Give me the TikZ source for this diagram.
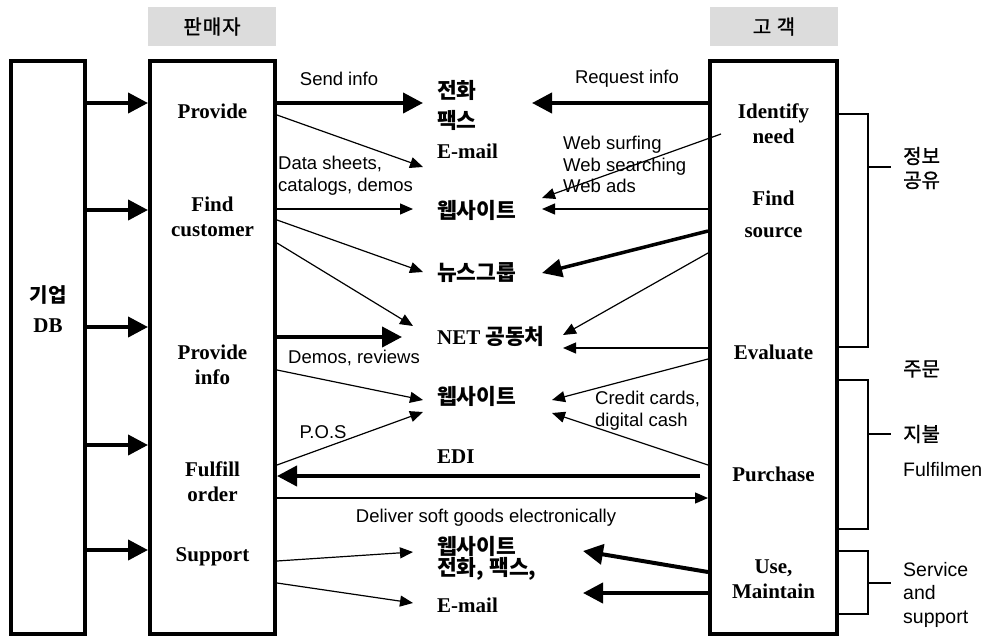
\documentclass[tikz,border=0pt]{standalone}
\usepackage{fontspec}
\usetikzlibrary{arrows.meta}
\newfontfamily\kr{Noto Sans CJK KR}
\newfontfamily\krm{Noto Sans CJK KR}[FakeBold=1.2]
\newfontfamily\tnr{Liberation Serif}
\newfontfamily\ar{Liberation Sans}
\definecolor{hdrgray}{RGB}{220,220,220}
\tikzset{
  frame/.style={draw, line width=4pt, inner sep=0pt},
  hdr/.style={fill=hdrgray, minimum width=128, minimum height=39, inner sep=0pt,
    font=\krm\fontsize{20}{20}\selectfont\addfontfeature{LetterSpace=5}},
  act/.style={align=center, inner sep=0pt, font=\tnr\bfseries\fontsize{21}{25}\selectfont},
  medk/.style={anchor=west, inner sep=0pt, font=\kr\bfseries\fontsize{21.5}{21.5}\selectfont},
  medt/.style={anchor=west, inner sep=0pt, font=\tnr\bfseries\fontsize{21}{21}\selectfont},
  lab/.style={inner sep=0pt, align=left, font=\ar\fontsize{18.5}{21.5}\selectfont},
  rlab/.style={anchor=west, inner sep=0pt, align=left, font=\ar\fontsize{19.5}{23.5}\selectfont},
  rlabk/.style={anchor=west, inner sep=0pt, align=left, font=\krm\fontsize{20}{24}\selectfont},
  bigarrow/.style={line width=4pt, -{Triangle[length=20pt,width=20pt]}},
  midarrow/.style={line width=3.5pt, -{Triangle[length=20pt,width=18pt]}},
  arr/.style={line width=1.2pt, -{Triangle[length=13pt,width=11pt]}},
  brk/.style={line width=1.3pt},
}
\begin{document}
\begin{tikzpicture}[x=1pt,y=-1pt]
\useasboundingbox (0,0) rectangle (988,637);

% headers
\node[hdr] (hseller) at (212,26.5) {판매자};
\node[hdr] (hcust) at (774,26.5) {고 객};

% big boxes
\node[frame, minimum width=74, minimum height=573] (db) at (48,347.5) {};
\node[frame, minimum width=125, minimum height=573] (seller) at (212.5,347.5) {};
\node[frame, minimum width=127, minimum height=573] (cust) at (773.5,347.5) {};

% DB label
\node[inner sep=0pt, font=\kr\bfseries\fontsize{20}{20}\selectfont] (dbk) at (48,295) {기업};
\node[inner sep=0pt, font=\tnr\bfseries\fontsize{21}{21}\selectfont] (dbt) at (48,326) {DB};

% seller activities
\node[act] (sProvide) at (212.5,111) {Provide};
\node[act] (sFind) at (212.5,216.5) {Find\\customer};
\node[act] (sInfo) at (212.5,364.5) {Provide\\info};
\node[act] (sFulfill) at (212.5,481.5) {Fulfill\\order};
\node[act] (sSupport) at (212.5,557) {Support};

% customer activities
\node[act] (cIdentify) at (773.5,124) {Identify\\need};
\node[act] (cFind) at (773.5,214) {Find\\[7pt]source};
\node[act] (cEval) at (773.5,352) {Evaluate};
\node[act] (cPurchase) at (773.5,474) {Purchase};
\node[act] (cUse) at (773.5,579.5) {Use,\\Maintain};

% middle channels
\node[medk] (mPhone) at (437,90) {전화};
\node[medk] (mFax) at (437,120) {팩스};
\node[medt] (mMail1) at (437,151) {E-mail};
\node[medk] (mWeb1) at (437,210) {웹사이트};
\node[medk] (mNews) at (437,273) {뉴스그룹};
\node[medk] (mNet) at (437,336) {{\tnr\fontsize{21}{21}\selectfont NET} 공동처};
\node[medk] (mWeb2) at (437,396) {웹사이트};
\node[medt] (mEDI) at (437,457) {EDI};
\node[medk] (mWeb3) at (437,546) {웹사이트};
\node[medk] (mPhFax) at (437,569) {전화, 팩스,};
\node[medt] (mMail2) at (437,605) {E-mail};

% labels
\node[lab] (lSend) at (339,79) {Send info};
\node[lab] (lReq) at (627,79) {Request info};
\node[lab, anchor=west] (lData) at (278,175.5) {Data sheets,\\catalogs, demos};
\node[lab, anchor=west] (lWeb) at (563,164.5) {Web surfing\\Web searching\\Web ads};
\node[lab] (lDemos) at (354,358) {Demos, reviews};
\node[lab] (lPOS) at (323,432) {P.O.S};
\node[lab, anchor=west] (lCredit) at (595,410.5) {Credit cards,\\digital cash};
\node[lab] (lDeliver) at (486,518) {Deliver soft goods electronically};

% right labels
\node[rlabk] (rInfo) at (903,168) {정보\\공유};
\node[rlabk] (rOrder) at (903,369) {주문};
\node[rlabk] (rPay) at (903,434) {지불};
\node[rlab] (rFulfil) at (903,470) {Fulfilmen};
\node[rlab] (rService) at (903,594.5) {Service\\and\\support};

% arrow end points
\coordinate (tSend) at (423,103);
\coordinate (tMail1) at (423,167);
\coordinate (tWeb1L) at (413,209);
\coordinate (tNewsL) at (423,272);
\coordinate (tNetL) at (413,326);
\coordinate (tNetL2) at (402,337);
\coordinate (tWeb2La) at (423,400);
\coordinate (tWeb2Lb) at (423,412);
\coordinate (sEDI) at (700,476);
\coordinate (tWeb3L) at (413,552);
\coordinate (tMail2L) at (413,603);
\coordinate (tReq) at (532,103);
\coordinate (sNeed) at (721,134);
\coordinate (tWeb1a) at (542,198);
\coordinate (tWeb1b) at (542,209);
\coordinate (tNewsR) at (542,273);
\coordinate (tNetR1) at (563,335);
\coordinate (tNetR2) at (563,348);
\coordinate (tWeb2Ra) at (552,400);
\coordinate (tWeb2Rb) at (552,413);
\coordinate (tWeb3R) at (583,551);
\coordinate (tMail2R) at (583,593);

% DB -> seller
\foreach \yy in {103,210,327,445,550}
  \draw[bigarrow] (db.east |- 0,\yy) -- (seller.west |- 0,\yy);

% seller -> channels
\draw[bigarrow] (seller.east |- 0,103) -- (tSend);
\draw[arr] (seller.east |- 0,115) -- (tMail1);
\draw[arr] (seller.east |- 0,209) -- (tWeb1L);
\draw[arr] (seller.east |- 0,220) -- (tNewsL);
\draw[arr] (seller.east |- 0,243) -- (tNetL);
\draw[bigarrow] (seller.east |- 0,337) -- (tNetL2);
\draw[arr] (seller.east |- 0,370) -- (tWeb2La);
\draw[arr] (seller.east |- 0,465) -- (tWeb2Lb);
\draw[bigarrow] (sEDI) -- (seller.east |- 0,476);
\draw[arr] (seller.east |- 0,498) -- (cust.west |- 0,498);
\draw[arr] (seller.east |- 0,561) -- (tWeb3L);
\draw[arr] (seller.east |- 0,583) -- (tMail2L);

% customer -> channels
\draw[bigarrow] (cust.west |- 0,103) -- (tReq);
\draw[arr] (sNeed) -- (tWeb1a);
\draw[arr] (cust.west |- 0,209) -- (tWeb1b);
\draw[midarrow] (cust.west |- 0,231) -- (tNewsR);
\draw[arr] (cust.west |- 0,253) -- (tNetR1);
\draw[arr] (cust.west |- 0,348) -- (tNetR2);
\draw[arr] (cust.west |- 0,359) -- (tWeb2Ra);
\draw[arr] (cust.west |- 0,465) -- (tWeb2Rb);
\draw[bigarrow] (cust.west |- 0,572) -- (tWeb3R);
\draw[bigarrow] (cust.west |- 0,593) -- (tMail2R);

% brackets
\draw[brk] (cust.east |- 0,114) -| (868,347) -- (cust.east |- 0,347);
\draw[brk] (868,167) -- (891,167);
\draw[brk] (cust.east |- 0,380) -| (868,529) -- (cust.east |- 0,529);
\draw[brk] (868,434) -- (891,434);
\draw[brk] (cust.east |- 0,551) -| (868,614) -- (cust.east |- 0,614);
\draw[brk] (868,583) -- (891,583);
\end{tikzpicture}
\end{document}
